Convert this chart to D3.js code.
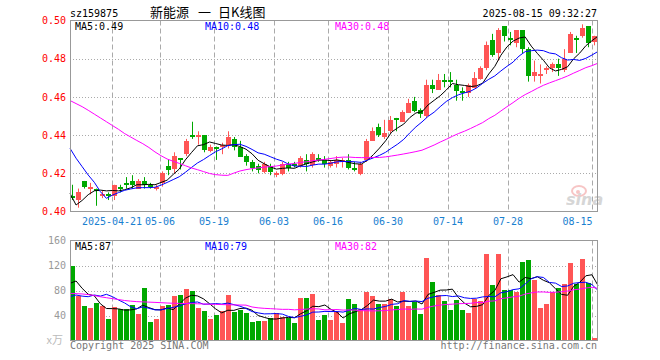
<!DOCTYPE html>
<html>
<head>
<meta charset="utf-8">
<script src="https://cdn.jsdelivr.net/npm/d3@7/dist/d3.min.js"></script>
<style>
  body { margin: 0; background: #fff; }
  svg { display: block; }
  text { font-family: "DejaVu Sans Mono", monospace; font-size: 10px; }
</style>
</head>
<body>
<div id="chart"></div>
<script>
(function () {

  // Header texts
  var code = "sz159875"
  , titleParts = ["新能源", "一", "日K线图"]
  , stamp = "2025-08-15 09:32:27";

  // Trading days (2025)
  var days = [
    "04-10","04-11","04-14","04-15","04-16","04-17","04-18","04-21","04-22","04-23","04-24","04-25","04-28","04-29","04-30",
    "05-06","05-07","05-08","05-09","05-12","05-13","05-14","05-15","05-16","05-19","05-20","05-21","05-22","05-23","05-26","05-27","05-28","05-29","05-30",
    "06-03","06-04","06-05","06-06","06-09","06-10","06-11","06-12","06-13","06-16","06-17","06-18","06-19","06-20","06-23","06-24","06-25","06-26","06-27","06-30",
    "07-01","07-02","07-03","07-04","07-07","07-08","07-09","07-10","07-11","07-14","07-15","07-16","07-17","07-18","07-21","07-22","07-23","07-24","07-25","07-28","07-29","07-30","07-31",
    "08-01","08-04","08-05","08-06","08-07","08-08","08-11","08-12","08-13","08-14","08-15"
  ];

  var open = [
    .408,.406,.416,.412,.412,.408,.409,.408,.413,.415,.416,.412,.416,.414,.412,
    .415,.424,.422,.428,.430,.440,.439,.440,.432,.434,.434,.435,.438,.434,.429,.426,.424,.421,.424,
    .419,.420,.425,.425,.424,.427,.424,.428,.427,.424,.425,.426,.427,.423,.420,.427,.437,.444,.439,.442,
    .449,.447,.452,.458,.453,.450,.466,.464,.469,.469,.466,.463,.462,.465,.469,.475,.490,.483,.497,.491,.488,.495,.485,
    .471,.471,.474,.475,.477,.474,.483,.491,.492,.497,.489
  ];
  var high = [
    .414,.412,.416,.415,.412,.411,.410,.414,.414,.418,.419,.417,.418,.415,.414,
    .421,.427,.431,.428,.438,.447,.442,.440,.435,.434,.436,.442,.439,.437,.430,.427,.425,.426,.425,
    .421,.426,.426,.426,.429,.430,.431,.430,.429,.427,.429,.428,.430,.426,.426,.438,.444,.446,.448,.450,
    .449,.453,.459,.460,.454,.469,.469,.472,.472,.473,.469,.465,.467,.473,.476,.489,.493,.496,.497,.494,.495,.495,.486,
    .479,.477,.476,.478,.480,.485,.494,.492,.498,.497,.492
  ];
  var low = [
    .406,.402,.412,.409,.403,.407,.406,.406,.410,.412,.412,.412,.412,.412,.411,
    .413,.419,.420,.422,.429,.438,.435,.431,.431,.427,.430,.433,.432,.429,.424,.421,.420,.420,.419,
    .418,.419,.421,.423,.423,.421,.423,.426,.423,.423,.423,.423,.422,.421,.419,.426,.437,.439,.438,.441,
    .442,.447,.452,.452,.449,.449,.462,.464,.465,.465,.458,.458,.460,.465,.469,.474,.481,.479,.489,.487,.486,.483,.468,
    .468,.467,.472,.473,.471,.473,.483,.483,.491,.486,.487
  ];
  var close = [
    .407,.410,.413,.413,.411,.409,.408,.414,.412,.414,.414,.416,.414,.413,.413,
    .420,.422,.429,.427,.437,.439,.440,.432,.434,.433,.435,.439,.434,.429,.426,.423,.422,.425,.421,
    .420,.425,.423,.424,.428,.425,.430,.427,.425,.426,.427,.427,.423,.422,.425,.437,.442,.440,.441,.448,
    .448,.452,.457,.453,.451,.466,.464,.469,.468,.468,.463,.462,.466,.470,.475,.487,.482,.495,.492,.490,.495,.485,.471,
    .473,.472,.475,.477,.475,.480,.493,.490,.496,.488,.492
  ];
  // volume, x万
  var volume = [
    119,72,55,52,60,55,34,54,50,50,57,42,84,30,34,
    55,57,71,73,82,79,52,47,34,41,47,73,46,49,44,30,31,31,36,
    44,38,36,28,68,68,74,33,41,33,45,28,66,58,50,78,71,58,58,66,
    55,78,55,62,42,132,94,73,63,49,65,49,44,66,63,138,89,138,81,81,78,126,129,
    97,52,58,78,84,90,124,90,130,92,4
  ];

  // MA values at the start of the window (their earlier closes are off the chart)
  var ma5Head = [.4095,.4034,.4058,.4088];
  var ma10Head = [.4331,.4279,.4235,.4191,.4153,.4104,.4069,.4086,.4099];
  var ma30Head = [.4581,.4565,.4549,.4530,.4510,.4490,.4470,.4450,.4430,.4408,.4390,.4372,.4355,.4335,.4312,
                  .4292,.4275,.4263,.4252,.4240,.4228,.4219,.4209,.4199,.4193,.4190,.4189,.4201,.4212];
  var vma5Head = [91.5,95.2,83.5,74];
  var vma10Head = [70.1,72.8,71,70.1,72.8,71,73.9,70.1,64.8];
  var vma30Head = [75.5,75,74.5,73.5,72,70,68.5,67,65.5,64,63,62.2,61.8,61.4,61,60.5,60,59.6,59.4,59.2,
                   59,58.8,58.5,58,57.8,57.5,57.2,57,56.8];

  // Axis ticks and legends
  var priceTicks = [0.40,0.42,0.44,0.46,0.48,0.50];
  var volTicks = [40,80,120,160];
  var dateTicks = ["04-21","05-06","05-19","06-03","06-16","06-30","07-14","07-28","08-15"];
  var dateLabels = ["2025-04-21","05-06","05-19","06-03","06-16","06-30","07-14","07-28","08-15"];
  var priceLegend = ["MA5:0.49","MA10:0.48","MA30:0.48"];
  var volLegend = ["MA5:87","MA10:79","MA30:82"];

  var maColors = ["#000000","#0000ff","#ff00ff"]
  , upColor = "#ff5555"
  , downColor = "#00a800";

  var left = 70, right = 598
  , pTop = 20.5, pBottom = 211.5
  , vTop = 240.5, vBottom = 340.5;

  var svg = d3.select('#chart').append('svg')
    .attr('width', 660)
    .attr('height', 360);

  // Scales

  var x = d3.scaleBand().domain(days).range([left, right]);
  var xTick = d3.scalePoint().domain(days).range([left, right - x.bandwidth()]);
  var xLine = d3.scalePoint().domain(days).range([left, right]);
  var y = d3.scaleLinear().domain([0.40, 0.50]).range([pBottom, pTop]);
  var yv = d3.scaleLinear().domain([0, 160]).range([vBottom, vTop]);

  function movingAvg(vals, n, head) {
    return vals.map(function (v, i) {
      return i < n - 1 ? head[i] : d3.mean(vals.slice(i - n + 1, i + 1));
    });
  }

  var priceMA = [movingAvg(close, 5, ma5Head), movingAvg(close, 10, ma10Head), movingAvg(close, 30, ma30Head)];
  var volMA = [movingAvg(volume, 5, vma5Head), movingAvg(volume, 10, vma10Head), movingAvg(volume, 30, vma30Head)];

  var bars = days.map(function (d, i) {
    return {day: d, o: open[i], h: high[i], l: low[i], c: close[i], v: volume[i]};
  });
  function barColor(d) { return d.c > d.o ? upColor : downColor; }

  // Header

  svg.append('text').attr('x', 70).attr('y', 16.5).text(code);
  var titleX = [150, 198, 218];
  svg.append('g').selectAll('text').data(titleParts).enter().append('text')
    .attr('x', function (d, i) { return titleX[i]; }).attr('y', 16.5)
    .style('font-family', '"Noto Sans CJK SC", sans-serif').style('font-size', '13px')
    .text(function (d) { return d; });
  svg.append('text').attr('x', 597).attr('y', 16.5).attr('text-anchor', 'end').text(stamp);

  // Grid

  function grid(top, bottom, yScale, ticks) {
    var g = svg.append('g');
    g.selectAll('.hgrid').data(ticks).enter().append('line')
      .attr('x1', left).attr('x2', right)
      .attr('y1', function (d) { return Math.round(yScale(d)) + 0.5; })
      .attr('y2', function (d) { return Math.round(yScale(d)) + 0.5; })
      .attr('stroke', '#aaa').attr('stroke-dasharray', '1,2');
    g.selectAll('.vgrid').data(dateTicks).enter().append('line')
      .attr('x1', function (d) { return x(d) + 0.5; })
      .attr('x2', function (d) { return x(d) + 0.5; })
      .attr('y1', top).attr('y2', bottom)
      .attr('stroke', '#aaa').attr('stroke-dasharray', '5,3');
  }
  grid(pTop, pBottom, y, [0.42, 0.44, 0.46, 0.48]);
  grid(vTop, vBottom, yv, [40, 80, 120]);

  // Sina watermark
  var wm = svg.append('g').attr('opacity', 0.6);
  wm.append('ellipse').attr('cx', 579).attr('cy', 191).attr('rx', 7).attr('ry', 5)
    .attr('fill', 'none').attr('stroke', '#f3a0a0').attr('stroke-width', 2);
  wm.append('circle').attr('cx', 578).attr('cy', 192).attr('r', 2).attr('fill', '#f3a0a0');
  wm.append('text').attr('x', 566).attr('y', 205)
    .style('font-family', '"DejaVu Sans", sans-serif').style('font-size', '16px')
    .style('font-style', 'italic').style('font-weight', 'bold')
    .attr('fill', '#bbb').text('sina');

  // Candles

  var candle = svg.append('g').selectAll('.candle')
    .data(bars)
    .enter().append('g')
    .attr('class', 'candle');

  candle.append('line')
    .attr('x1', function (d) { return x(d.day) + 2.5; })
    .attr('x2', function (d) { return x(d.day) + 2.5; })
    .attr('y1', function (d) { return y(d.h); })
    .attr('y2', function (d) { return y(d.l); })
    .attr('stroke', barColor);

  candle.append('rect')
    .attr('x', function (d) { return x(d.day); })
    .attr('width', 5)
    .attr('y', function (d) { return Math.round(y(Math.max(d.o, d.c))); })
    .attr('height', function (d) { return Math.max(1, Math.round(Math.abs(y(d.o) - y(d.c)))); })
    .attr('fill', barColor)
    .attr('shape-rendering', 'crispEdges');

  // Volume bars

  svg.append('g').selectAll('.vol')
    .data(bars)
    .enter().append('rect')
    .attr('class', 'vol')
    .attr('x', function (d) { return x(d.day); })
    .attr('width', 5)
    .attr('y', function (d) { return yv(d.v); })
    .attr('height', function (d) { return yv(0) - yv(d.v); })
    .attr('fill', barColor)
    .attr('shape-rendering', 'crispEdges');

  // Moving average lines

  function drawLines(series, yScale) {
    var line = d3.line()
      .x(function (d, i) { return xLine(days[i]); })
      .y(function (d) { return yScale(d); });
    svg.append('g').selectAll('path')
      .data(series)
      .enter().append('path')
      .attr('d', line)
      .attr('fill', 'none')
      .attr('stroke', function (d, i) { return maColors[i]; })
      .attr('stroke-width', 1);
  }
  drawLines(priceMA, y);
  drawLines(volMA, yv);

  // Frames

  [[pTop, pBottom], [vTop, vBottom]].forEach(function (p) {
    svg.append('rect')
      .attr('x', left + 0.5).attr('y', p[0])
      .attr('width', right - left - 1).attr('height', p[1] - p[0])
      .attr('fill', 'none').attr('stroke', '#999');
  });

  // Axes

  var priceAxis = svg.append('g')
    .attr('transform', 'translate(' + left + ',0)')
    .call(d3.axisLeft(y).tickValues(priceTicks).tickSize(0).tickPadding(4).tickFormat(d3.format('.2f')));
  priceAxis.selectAll('text').attr('fill', '#ff0000')
    .style('font-family', '"DejaVu Sans Mono", monospace').style('font-size', '10px');

  var volAxis = svg.append('g')
    .attr('transform', 'translate(' + left + ',0)')
    .call(d3.axisLeft(yv).tickValues(volTicks).tickSize(0).tickPadding(4));
  volAxis.selectAll('text').attr('fill', '#999')
    .style('font-family', '"DejaVu Sans Mono", monospace').style('font-size', '10px');

  var dateAxis = svg.append('g')
    .attr('transform', 'translate(-0.5,' + pBottom + ')')
    .call(d3.axisBottom(xTick).tickValues(dateTicks).tickSize(0).tickPadding(6)
      .tickFormat(function (d) { return dateLabels[dateTicks.indexOf(d)]; }));
  dateAxis.selectAll('text').attr('fill', '#1a80d0')
    .style('font-family', '"DejaVu Sans Mono", monospace').style('font-size', '10px');
  dateAxis.selectAll('.tick:last-of-type text').attr('text-anchor', 'end').attr('x', 0.5);

  svg.selectAll('.domain').remove();

  svg.append('text').attr('x', 63).attr('y', 344).attr('text-anchor', 'end')
    .attr('fill', '#bbb')
    .style('font-family', '"Noto Sans CJK SC", sans-serif').style('font-size', '11px')
    .text('x万');

  // Legends

  var legendX = [75, 205, 335];
  svg.append('g').selectAll('text').data(priceLegend).enter().append('text')
    .attr('x', function (d, i) { return legendX[i]; }).attr('y', 29.5)
    .attr('fill', function (d, i) { return maColors[i]; })
    .text(function (d) { return d; });
  svg.append('g').selectAll('text').data(volLegend).enter().append('text')
    .attr('x', function (d, i) { return legendX[i]; }).attr('y', 250)
    .attr('fill', function (d, i) { return maColors[i]; })
    .text(function (d) { return d; });

  // Footer

  svg.append('text').attr('x', 70).attr('y', 348.5).attr('fill', '#777').text('Copyright 2025 SINA.COM');
  svg.append('text').attr('x', 597).attr('y', 348.5).attr('text-anchor', 'end').attr('fill', '#777')
    .text('http://finance.sina.com.cn');

})()
</script>
</body>
</html>
